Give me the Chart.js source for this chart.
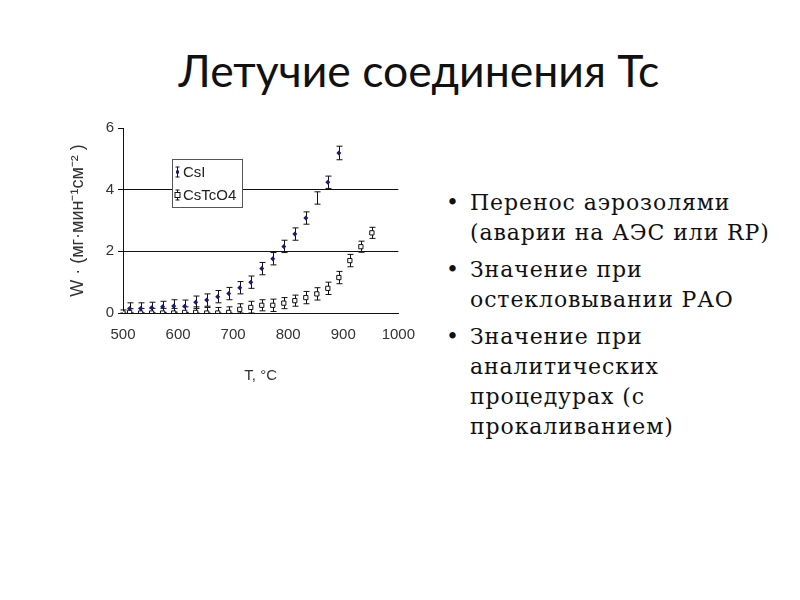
<!DOCTYPE html>
<html>
<head>
<meta charset="utf-8">
<script src="https://cdn.jsdelivr.net/npm/chart.js@4.4.1/dist/chart.umd.min.js"></script>
<style>
  body { margin: 0; background: #fff; width: 800px; height: 600px; position: relative; overflow: hidden; }
  #title { position: absolute; left: 0; width: 838px; top: 43px; text-align: center; line-height: 1.2;
    font-family: Lato, "Open Sans", sans-serif; font-size: 44.5px; color: #111; }
  #wrap { position: absolute; left: 40px; top: 110px; width: 383px; height: 280px; }
  ul { position: absolute; left: 446px; top: 188px; margin: 0; padding: 0; list-style: none;
    font-family: "DejaVu Serif", "Liberation Serif", serif; font-size: 22px; letter-spacing: 0.9px;
    color: #111; width: 340px; }
  li { position: relative; padding-left: 24px; line-height: 30px; margin-bottom: 7px; }
  li:before { content: "\2022"; position: absolute; left: 0; letter-spacing: 0; }
</style>
</head>
<body>
<div id="title">Летучие соединения Tc</div>
<div id="wrap"><canvas id="my-chart"></canvas></div>
<ul>
  <li>Перенос аэрозолями<br>(аварии на АЭС или RP)</li>
  <li>Значение при<br>остекловывании РАО</li>
  <li>Значение при<br>аналитических<br>процедурах (с<br>прокаливанием)</li>
</ul>
<script>
var ctx = document.getElementById('my-chart');

// data
var csiT = [512, 532, 552, 572, 592, 612, 632, 652, 672, 692, 712, 732, 752, 772, 792, 812, 832, 852, 872, 892];
var csiW = [0.15, 0.15, 0.17, 0.2, 0.23, 0.22, 0.35, 0.42, 0.53, 0.63, 0.82, 1.0, 1.44, 1.76, 2.16, 2.56, 3.08, 3.73, 4.24, 5.19];
var csiErr = [0.18, 0.18, 0.18, 0.18, 0.2, 0.2, 0.2, 0.2, 0.2, 0.2, 0.2, 0.2, 0.2, 0.2, 0.2, 0.2, 0.2, 0.2, 0.2, 0.22];

var tcoT = [500, 512, 532, 552, 572, 592, 612, 632, 652, 672, 692, 712, 732, 752, 772, 792, 812, 832, 852, 872, 892, 912, 932, 952];
var tcoW = [0, 0.02, 0, 0, 0, 0, 0.02, 0.02, 0, 0, 0.02, 0.12, 0.18, 0.25, 0.25, 0.32, 0.4, 0.5, 0.62, 0.8, 1.15, 1.7, 2.15, 2.6];
var tcoErr = [0.1, 0.12, 0.15, 0.15, 0.15, 0.15, 0.18, 0.18, 0.18, 0.18, 0.18, 0.18, 0.2, 0.18, 0.2, 0.18, 0.18, 0.2, 0.2, 0.2, 0.2, 0.2, 0.18, 0.18];

var xTicks = [500, 600, 700, 800, 900, 1000];
var yTicks = [0, 2, 4, 6];
var names = ['CsI', 'CsTcO4'];

function pts(xs, ys) {
	var out = [];
	for (var i in xs) out.push({x: xs[i], y: ys[i]});
	return out;
}

var csiRadius = csiT.map(function (t) { return t == 852 ? 0 : 2.5; });
var axisFont = '"Liberation Sans", Arial, sans-serif';

var errBars = {
	id: 'errBars',
	beforeDatasetsDraw: function (chart) {
		var c = chart.ctx, xs = chart.scales.x, ys = chart.scales.y;
		var sets = [[csiT, csiW, csiErr], [tcoT, tcoW, tcoErr]];
		c.save();
		c.strokeStyle = '#111';
		c.lineWidth = 1;
		sets.forEach(function (s) {
			for (var i = 0; i < s[0].length; i++) {
				var px = Math.round(xs.getPixelForValue(s[0][i])) + 0.5;
				var top = ys.getPixelForValue(s[1][i] + s[2][i]);
				var bot = ys.getPixelForValue(Math.max(s[1][i] - s[2][i], 0));
				c.beginPath();
				c.moveTo(px, top); c.lineTo(px, bot);
				c.moveTo(px - 3, top); c.lineTo(px + 3, top);
				c.moveTo(px - 3, bot); c.lineTo(px + 3, bot);
				c.stroke();
			}
		});
		c.restore();
	},
	afterDraw: function (chart) {
		// legend box
		var c = chart.ctx, a = chart.chartArea;
		var lx = a.left + 49, ly = a.top + 31, w = 70, h = 48;
		c.save();
		c.fillStyle = '#fff';
		c.fillRect(lx, ly, w, h);
		c.strokeStyle = '#555';
		c.lineWidth = 1;
		c.strokeRect(lx + 0.5, ly + 0.5, w, h);
		c.font = '15px ' + axisFont;
		c.textBaseline = 'middle';
		for (var k = 0; k < 2; k++) {
			var cy = ly + 13 + k * 23, ix = lx + 5.5;
			c.strokeStyle = '#111';
			c.beginPath();
			c.moveTo(ix, cy - 5); c.lineTo(ix, cy + 5);
			c.moveTo(ix - 2, cy - 5); c.lineTo(ix + 2, cy - 5);
			c.moveTo(ix - 2, cy + 5); c.lineTo(ix + 2, cy + 5);
			c.stroke();
			if (k == 0) {
				c.fillStyle = '#1a1a7a';
				c.fillRect(ix - 1.5, cy - 1.5, 3, 3);
			} else {
				c.fillStyle = '#fff';
				c.fillRect(ix - 2.5, cy - 2.5, 5, 5);
				c.strokeRect(ix - 2.5, cy - 2.5, 5, 5);
			}
			c.fillStyle = '#222';
			c.fillText(names[k], lx + 11, cy + 1);
		}
		c.restore();
	}
};

var data = {
	datasets: [{
		label: names[0],
		data: pts(csiT, csiW),
		pointStyle: 'rectRot',
		pointRadius: csiRadius,
		backgroundColor: '#1a1a7a',
		borderColor: '#1a1a7a',
		borderWidth: 0
	}, {
		label: names[1],
		data: pts(tcoT, tcoW),
		pointStyle: 'rect',
		pointRadius: 3,
		backgroundColor: '#fff',
		borderColor: '#111',
		borderWidth: 1
	}]
};

var options = {
	responsive: true,
	maintainAspectRatio: false,
	animation: false,
	layout: { padding: { top: 18, right: 0, left: 0, bottom: 0 } },
	plugins: { legend: { display: false }, tooltip: { enabled: false } },
	scales: {
		x: {
			type: 'linear',
			min: 500, max: 1000,
			afterBuildTicks: function (s) { s.ticks = xTicks.map(function (v) { return {value: v}; }); },
			afterFit: function (s) { s.height = 77; },
			grid: { display: false, drawOnChartArea: false, tickLength: 5, color: '#111' },
			border: { color: '#111', width: 1 },
			ticks: { color: '#333', font: { family: axisFont, size: 15 }, padding: 8, maxRotation: 0,
				callback: function (v) { return String(v); } },
			title: { display: true, text: 'T, °C', color: '#333', font: { family: axisFont, size: 15 }, padding: { top: 0, bottom: 5 } }
		},
		y: {
			min: 0, max: 6,
			afterBuildTicks: function (s) { s.ticks = yTicks.map(function (v) { return {value: v}; }); },
			afterFit: function (s) { s.width = 83; },
			grid: {
				color: function (c) { return (c.tick.value == 2 || c.tick.value == 4) ? '#111' : 'rgba(0,0,0,0)'; },
				tickColor: '#111', tickLength: 5
			},
			border: { color: '#111', width: 1 },
			ticks: { color: '#333', font: { family: axisFont, size: 15 }, padding: 4 },
			title: { display: true, text: 'W · (мг·мин⁻¹см⁻² )', color: '#333', font: { family: axisFont, size: 18 }, padding: { top: 27, bottom: 0 } }
		}
	}
};

var myChart = new Chart(ctx, {
	type: 'scatter',
	data: data,
	options: options,
	plugins: [errBars]
});
</script>
</body>
</html>
